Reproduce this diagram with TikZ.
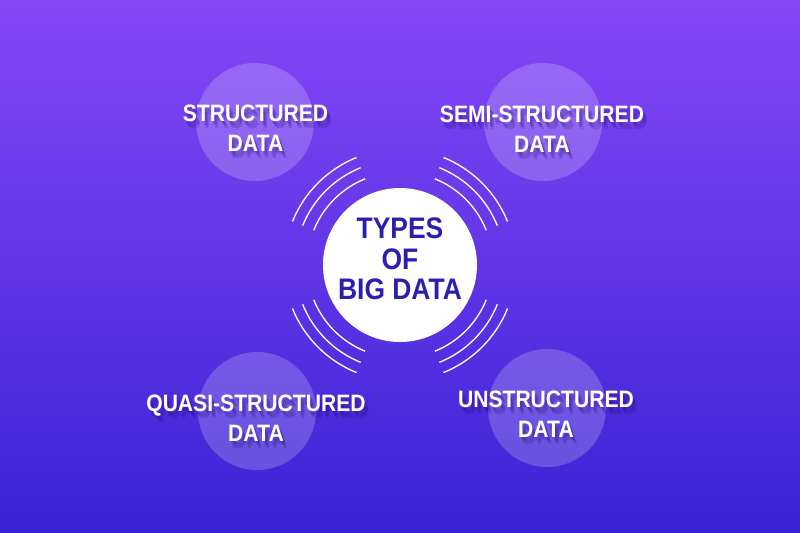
\documentclass[tikz,border=0pt]{standalone}
\usepackage{fontspec}
\usepackage{xcolor}
\usetikzlibrary{calc}
\newfontfamily\labelfont{Liberation Sans}[FakeStretch=0.89]

\definecolor{bgtop}{HTML}{8647F7}
\definecolor{bgmid}{HTML}{5D3DF2}
\definecolor{bgbot}{HTML}{3A23D5}
\definecolor{typeblue}{HTML}{2C1FB0}
\definecolor{shadowc}{HTML}{1E0A6B}

% white label with a soft drop shadow
\newcommand\typelabel[3]{%
  \foreach \dx/\dy in {2/3, 3/5, 4/7}
    \node[typelbl, text=shadowc, text opacity=0.16] at ($(#2)+(\dx,\dy)$) {#3};
  \node[typelbl] (#1) at (#2) {#3};}

\begin{document}
\begin{tikzpicture}[x=0.2mm, y=-0.2mm,
    bubble/.style={circle, fill=white, fill opacity=0.2, minimum size=23.6mm, inner sep=0pt},
    typelbl/.style={align=center, text=white, inner sep=0pt,
        font=\labelfont\bfseries\fontsize{13.5}{17.3}\selectfont},
    wave/.style={white, line width=0.75pt}]
    \useasboundingbox (0,0) rectangle (800,533);
    \shade[top color=bgtop, middle color=bgmid, bottom color=bgbot] (0,0) rectangle (800,533);

    % centre
    \node[circle, fill=white, minimum size=30.8mm, inner sep=0pt] (types) at (400,265) {};
    \node[align=center, text=typeblue, inner sep=0pt,
        font=\labelfont\bfseries\fontsize{16.9}{17.3}\selectfont] (typestxt) at (400,259)
        {TYPES\\OF\\BIG DATA};
    \foreach \a in {45,135,225,315}
        \foreach \r in {93,105,116}
            \draw[wave] ([shift={(\a-23:\r)}]types.center) arc[start angle=\a-23, end angle=\a+23, radius=\r];

    % the four kinds
    \node[bubble] (b1) at (255,122) {};
    \node[bubble] (b2) at (543,122) {};
    \node[bubble] (b3) at (257,411) {};
    \node[bubble] (b4) at (547,408) {};
    \typelabel{structured}{255.5,128.5}{STRUCTURED\\DATA}
    \typelabel{semi}{542,129}{SEMI-STRUCTURED\\DATA}
    \typelabel{quasi}{256,418.5}{QUASI-STRUCTURED\\DATA}
    \typelabel{unstructured}{546,414}{UNSTRUCTURED\\DATA}
\end{tikzpicture}
\end{document}
